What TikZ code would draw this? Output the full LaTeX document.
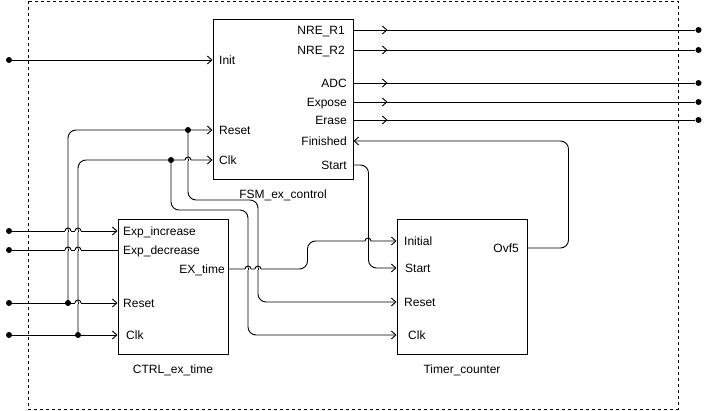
\documentclass[tikz,border=0pt]{standalone}
\usepackage{fontspec}
\setmainfont{Liberation Sans}
\usetikzlibrary{arrows.meta,positioning,calc}

\begin{document}
\begin{tikzpicture}[
  x=1pt,y=1pt,
  font=\fontsize{12}{14}\selectfont,
  blk/.style={draw,line width=1pt,inner sep=0pt},
  lbl/.style={inner sep=0pt,text height=8.6pt,text depth=0pt},
  wire/.style={line width=0.9pt},
  arr/.style={wire,-{Straight Barb[length=4.5pt,width=8pt]}},
  bus/.style={arr,rounded corners=8pt},
  dot/.style={circle,fill,inner sep=0pt,minimum size=6pt},
  frame/.style={line width=0.8pt,dash pattern=on 3pt off 3pt}
]
\useasboundingbox (0,0) rectangle (707,-411);
\draw[frame] (28,-1.5) rectangle (678,-409.5);

% blocks
\node[blk,minimum width=140pt,minimum height=160pt] (fsm) at (283,-100) {};
\node[blk,minimum width=110pt,minimum height=135pt] (ctl) at (173,-287.5) {};
\node[blk,minimum width=130pt,minimum height=135pt] (tim) at (462,-287.5) {};
\node[below=6pt of fsm] (fsmName) {FSM\_ex\_control};
\node[below=6pt of ctl] (ctlName) {CTRL\_ex\_time};
\node[below=6pt of tim] (timName) {Timer\_counter};

% ports of FSM_ex_control
\node[lbl,anchor=west] (fInit) at (219,-60) {Init};
\node[lbl,anchor=west] (fRst) at (219,-130) {Reset};
\node[lbl,anchor=west] (fClk) at (219,-160) {Clk};
\node[lbl,anchor=east] (fR1) at (345,-30) {NRE\_R1};
\node[lbl,anchor=east] (fR2) at (345,-50) {NRE\_R2};
\node[lbl,anchor=east] (fADC) at (347,-83) {ADC};
\node[lbl,anchor=east] (fExp) at (347,-102) {Expose};
\node[lbl,anchor=east] (fEra) at (347,-120) {Erase};
\node[lbl,anchor=east] (fFin) at (347,-141) {Finished};
\node[lbl,anchor=east] (fStart) at (347,-165) {Start};

% ports of CTRL_ex_time
\node[lbl,anchor=west] (cInc) at (123,-231) {Exp\_increase};
\node[lbl,anchor=west] (cDec) at (123,-250) {Exp\_decrease};
\node[lbl,anchor=east] (cEx) at (225,-269) {EX\_time};
\node[lbl,anchor=west] (cRst) at (123,-303) {Reset};
\node[lbl,anchor=west] (cClk) at (126,-335) {Clk};

% ports of Timer_counter
\node[lbl,anchor=west] (tInit) at (404,-241) {Initial};
\node[lbl,anchor=east] (tOvf) at (519,-248) {Ovf5};
\node[lbl,anchor=west] (tStart) at (405,-268) {Start};
\node[lbl,anchor=west] (tRst) at (404,-302) {Reset};
\node[lbl,anchor=west] (tClk) at (408,-335) {Clk};

% inputs
\node[dot] (iInit) at (9,-60) {};
\node[dot] (iInc) at (9,-231) {};
\node[dot] (iDec) at (9,-250) {};
\node[dot] (iRst) at (9,-303) {};
\node[dot] (iClk) at (9,-335) {};
\draw[arr] (iInit) -- (fsm.west |- fInit);
\draw[arr] (iInc) -- (ctl.west |- cInc);
\draw[wire] (iDec) -- (ctl.west |- cDec);
\draw[arr] (iRst) -- (ctl.west |- cRst);
\draw[arr] (iClk) -- (ctl.west |- cClk);

% outputs
\foreach \p in {fR1,fR2,fADC,fExp,fEra}{
  \path (fsm.east |- \p) ++(345,0) node[dot] (o\p) {};
  \draw[wire] (fsm.east |- \p) -- (o\p);
  \draw[arr] (fsm.east |- \p) -- ++(34,0);
}

% reset and clock distribution
\node[dot] (jRst) at (68,-303) {};
\node[dot] (jClk) at (78,-335) {};
\node[dot] (jFRst) at (188,-130) {};
\node[dot] (jFClk) at (171,-160) {};
\draw[bus] (jRst.center) |- (fsm.west |- fRst);
\draw[bus] (jClk.center) |- (fsm.west |- fClk);
\draw[bus] (jFRst.center) |- ++(70,-70) |- (tim.west |- tRst);
\draw[bus] (jFClk.center) |- ++(77,-50) |- (tim.west |- tClk);

% control signals
\draw[bus] (fsm.east |- fStart) -- ++(15,0) |- (tim.west |- tStart);
\draw[bus] (tim.east |- tOvf) -| ($(fsm.east |- fFin)+(215,0)$) -- (fsm.east |- fFin);
\draw[bus] (ctl.east |- cEx) -- ++(79,0) |- (tim.west |- tInit);

% line hops
\foreach \hx/\hy in {68/231,78/231,68/250,78/250,78/303,188/160,248/269,258/269,368/241}{
  \fill[white] (\hx-3,-\hy-0.7) rectangle (\hx+3,-\hy+0.7);
  \draw[wire] (\hx,-\hy-1) -- (\hx,-\hy+1);
  \draw[wire] (\hx-3,-\hy) arc[start angle=180,end angle=0,radius=3pt];
}
\end{tikzpicture}
\end{document}
